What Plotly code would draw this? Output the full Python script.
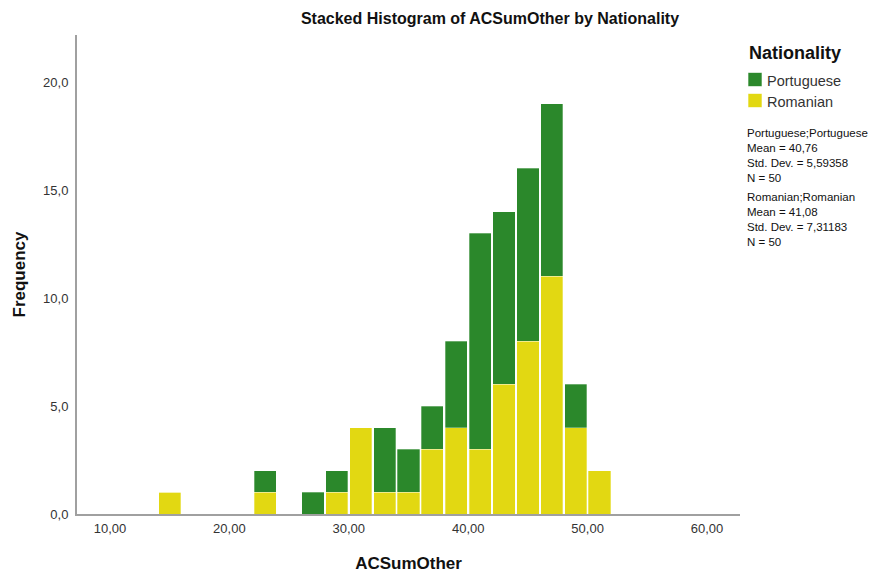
import plotly.graph_objects as go

# bin centres (bin width 2)
bin_centers = [15, 17, 19, 21, 23, 25, 27, 29, 31, 33, 35, 37, 39, 41, 43, 45, 47, 49, 51]
romanian = [1, 0, 0, 0, 1, 0, 0, 1, 4, 1, 1, 3, 4, 3, 6, 8, 11, 4, 2]
portuguese = [0, 0, 0, 0, 1, 0, 1, 1, 0, 3, 2, 2, 4, 10, 8, 8, 8, 2, 0]

x_ticks = [10, 20, 30, 40, 50, 60]
x_ticktext = ["10,00", "20,00", "30,00", "40,00", "50,00", "60,00"]
y_ticks = [0, 5, 10, 15, 20]
y_ticktext = ["0,0", "5,0", "10,0", "15,0", "20,0"]

legend_names = ["Portuguese", "Romanian"]
stats_lines = [
    ["Portuguese;Portuguese", "Mean = 40,76", "Std. Dev. = 5,59358", "N = 50"],
    ["Romanian;Romanian", "Mean = 41,08", "Std. Dev. = 7,31183", "N = 50"],
]

GREEN = "#2b882b"
YELLOW = "#e2d812"
FONT = "Liberation Sans, Arial, sans-serif"

W, H = 886, 573
L, R, T, B = 77, 146, 35, 59
PW, PH = W - L - R, H - T - B


def px(x):
    return (x - L) / PW


def py(y):
    return 1 - (y - T) / PH


fig = go.Figure()
fig.add_trace(go.Bar(x=bin_centers, y=romanian, name="Romanian", width=1.86,
                     marker=dict(color=YELLOW, line=dict(color="rgba(255,255,255,0.5)", width=0.6))))
fig.add_trace(go.Bar(x=bin_centers, y=portuguese, name="Portuguese", width=1.86,
                     marker=dict(color=GREEN, line=dict(color="rgba(255,255,255,0.5)", width=0.6))))

fig.update_layout(
    width=W, height=H,
    margin=dict(l=L, r=R, t=T, b=B, autoexpand=False),
    barmode="stack", showlegend=False,
    plot_bgcolor="white", paper_bgcolor="white",
    font=dict(family=FONT, color="#222"),
    title=dict(text="<b>Stacked Histogram of ACSumOther by Nationality</b>",
               x=490 / W, xanchor="center", y=1 - 18 / H, yanchor="middle",
               font=dict(size=16, color="#111")),
)

fig.update_xaxes(range=[7.24, 62.76], tickvals=x_ticks, ticktext=x_ticktext,
                 showgrid=False, zeroline=False, showline=True, linecolor="#a0a0a0", linewidth=2,
                 ticks="outside", ticklen=1, tickcolor="rgba(0,0,0,0)",
                 tickfont=dict(size=13, color="#333"),
                 title=dict(text="<b>ACSumOther</b>", font=dict(size=17, color="#111"), standoff=24))
fig.update_yaxes(range=[0, 22.18], tickvals=y_ticks, ticktext=y_ticktext,
                 showgrid=False, zeroline=False, showline=True, linecolor="#a0a0a0", linewidth=2,
                 ticks="outside", ticklen=4, tickcolor="rgba(0,0,0,0)",
                 tickfont=dict(size=13, color="#333"),
                 title=dict(text="<b>Frequency</b>", font=dict(size=17, color="#111"), standoff=13))

# legend drawn by hand so the swatches sit under the title like SPSS
fig.add_annotation(text="<b>Nationality</b>", xref="paper", yref="paper",
                   x=px(747), xanchor="left", y=py(53), yanchor="middle",
                   showarrow=False, font=dict(size=18, color="#111"))
for i, (name, col) in enumerate(zip(legend_names, [GREEN, YELLOW])):
    yc = 79.5 + 21 * i
    fig.add_shape(type="rect", xref="paper", yref="paper",
                  x0=px(748), x1=px(762), y0=py(yc - 7), y1=py(yc + 7),
                  fillcolor=col, line=dict(color="rgba(255,255,255,0.6)", width=1))
    fig.add_annotation(text=name, xref="paper", yref="paper",
                       x=px(765), xanchor="left", y=py(yc + 1.5), yanchor="middle",
                       showarrow=False, font=dict(size=14.5, color="#333"))

# summary stats, one multi-line block per group
for i, block in enumerate(stats_lines):
    fig.add_annotation(text="<br>".join(block), xref="paper", yref="paper",
                       x=px(746), xanchor="left", y=py(126 + 64 * i), yanchor="top",
                       align="left", showarrow=False, borderpad=0,
                       font=dict(size=11.5, color="#111"))

fig.write_html("out.html", config={"displayModeBar": False},
               post_script="document.body.style.margin='0';")
